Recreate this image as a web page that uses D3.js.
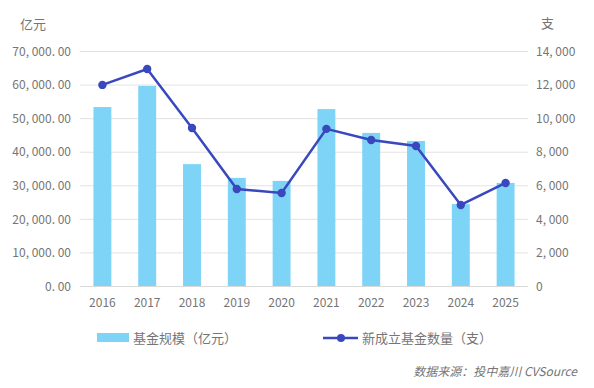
<!DOCTYPE html>
<html>
<head>
<meta charset="utf-8">
<script src="https://cdn.jsdelivr.net/npm/d3@7"></script>
<style>
  body { margin: 0; background: #fff; }
  svg text { font-family: "Noto Sans CJK SC", "DejaVu Sans", sans-serif; fill: #757575; }
</style>
</head>
<body>
<div id="chart"></div>
<script>
// data
var years = ["2016", "2017", "2018", "2019", "2020", "2021", "2022", "2023", "2024", "2025"];
var fundSize = [53300, 59600, 36300, 32200, 31300, 52700, 45600, 43200, 24400, 30700];
var newFunds = [11980, 12930, 9410, 5780, 5540, 9360, 8700, 8340, 4830, 6140];
var leftTicks = [0, 10000, 20000, 30000, 40000, 50000, 60000, 70000];
var rightTicks = [0, 2000, 4000, 6000, 8000, 10000, 12000, 14000];

var width = 594, height = 388;
var plot = {left: 80, right: 528, top: 51, bottom: 286};

var svg = d3.select("#chart").append("svg")
    .attr("width", width)
    .attr("height", height);

var x = d3.scaleBand()
    .domain(years)
    .range([plot.left, plot.right])
    .paddingInner(0.6)
    .paddingOuter(0.3);

var yLeft = d3.scaleLinear().domain([0, 70000]).range([plot.bottom, plot.top]);
var yRight = d3.scaleLinear().domain([0, 14000]).range([plot.bottom, plot.top]);

// spaced look of the reference number font
function spaced(s) { return s.replace(/,/g, ", ").replace(/\./g, ". "); }
var fmtLeft = function (d) { return spaced(d3.format(",.2f")(d)); };
var fmtRight = function (d) { return spaced(d3.format(",")(d)); };

// gridlines
svg.append("g")
    .selectAll("line")
    .data(leftTicks.slice(1))
    .enter()
    .append("line")
    .attr("x1", plot.left)
    .attr("x2", plot.right)
    .attr("y1", function (d) { return yLeft(d) + 0.5; })
    .attr("y2", function (d) { return yLeft(d) + 0.5; })
    .attr("stroke", "#e2e2e2")
    .attr("stroke-width", 1);

// left axis
var leftAxis = d3.axisLeft(yLeft).tickValues(leftTicks).tickFormat(fmtLeft).tickSize(0).tickPadding(9);
var gl = svg.append("g").attr("transform", "translate(" + plot.left + ",0)").call(leftAxis);
gl.select(".domain").remove();
gl.selectAll("text").style("font-size", "12px").attr("dy", "0.35em");

// right axis
var rightAxis = d3.axisRight(yRight).tickValues(rightTicks).tickFormat(fmtRight).tickSize(0).tickPadding(8);
var gr = svg.append("g").attr("transform", "translate(" + plot.right + ",0)").call(rightAxis);
gr.select(".domain").remove();
gr.selectAll("text").style("font-size", "12px").attr("dy", "0.35em");

// bars
svg.append("g")
    .selectAll("rect")
    .data(years)
    .enter()
    .append("rect")
    .attr("x", function (d) { return x(d); })
    .attr("y", function (d, i) { return yLeft(fundSize[i]); })
    .attr("width", x.bandwidth())
    .attr("height", function (d, i) { return yLeft(0) - yLeft(fundSize[i]); })
    .attr("fill", "#7dd4f7");

// baseline
svg.append("line")
    .attr("x1", plot.left).attr("x2", plot.right)
    .attr("y1", plot.bottom + 0.5).attr("y2", plot.bottom + 0.5)
    .attr("stroke", "#d9d9d9");

// x axis labels
var xAxis = d3.axisBottom(x).tickSize(0).tickPadding(12);
var gx = svg.append("g").attr("transform", "translate(0," + plot.bottom + ")").call(xAxis);
gx.select(".domain").remove();
gx.selectAll("text").style("font-size", "12px");

// line
var cx = function (d, i) { return x(years[i]) + x.bandwidth() / 2; };
var line = d3.line()
    .x(cx)
    .y(function (d) { return yRight(d); });

svg.append("path")
    .datum(newFunds)
    .attr("d", line)
    .attr("fill", "none")
    .attr("stroke", "#3a48be")
    .attr("stroke-width", 2.5);

svg.append("g")
    .selectAll("circle")
    .data(newFunds)
    .enter()
    .append("circle")
    .attr("cx", cx)
    .attr("cy", function (d) { return yRight(d); })
    .attr("r", 4.2)
    .attr("fill", "#3a48be");

// unit labels
svg.append("text").attr("x", 20).attr("y", 29).style("font-size", "13px").text("亿元");
svg.append("text").attr("x", 541).attr("y", 28).style("font-size", "13px").text("支");

// legend
svg.append("rect").attr("x", 97).attr("y", 333).attr("width", 32).attr("height", 9).attr("fill", "#7dd4f7");
svg.append("text").attr("x", 133).attr("y", 343).style("font-size", "13px").text("基金规模（亿元）");

svg.append("line").attr("x1", 323).attr("x2", 358).attr("y1", 338).attr("y2", 338)
    .attr("stroke", "#3a48be").attr("stroke-width", 2.5);
svg.append("circle").attr("cx", 341).attr("cy", 338).attr("r", 4).attr("fill", "#3a48be");
svg.append("text").attr("x", 362).attr("y", 343).style("font-size", "13px").text("新成立基金数量（支）");

// source
svg.append("text")
    .attr("x", 577).attr("y", 376)
    .attr("text-anchor", "end")
    .style("font-size", "12px")
    .style("font-style", "italic")
    .text("数据来源：投中嘉川 CVSource");
</script>
</body>
</html>
